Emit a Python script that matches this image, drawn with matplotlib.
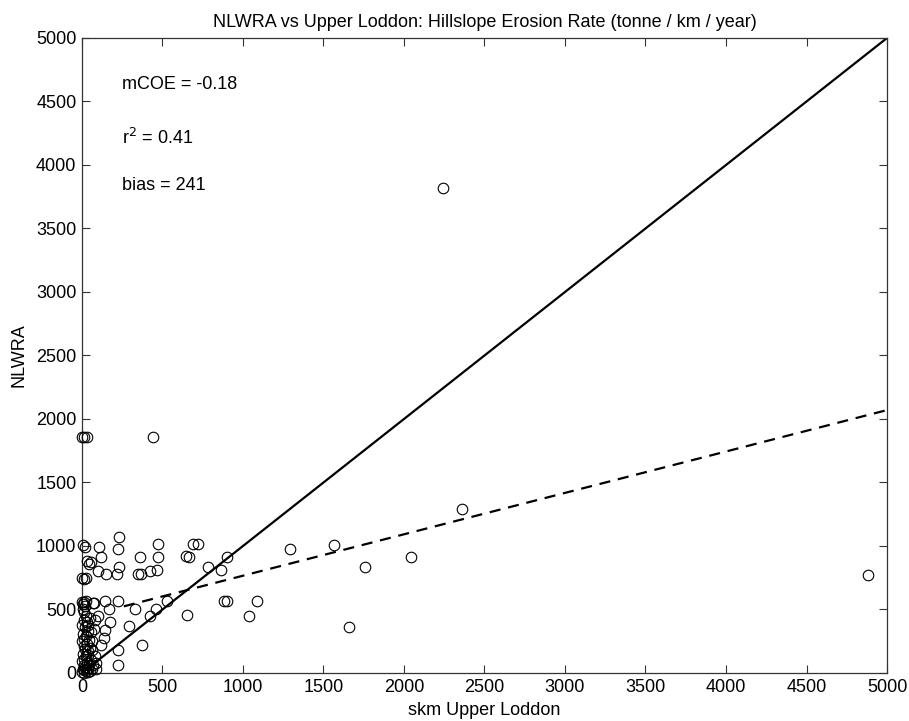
import matplotlib
matplotlib.use("Agg")
import matplotlib.pyplot as plt
import numpy as np

plt.rcParams['font.family'] = ['Liberation Sans', 'DejaVu Sans']

# Scatter data: skm Upper Loddon (x) vs NLWRA (y)
x_vals = [
    2245, 2360, 4880, 2045, 1760, 1565, 1290, 1660, 1085, 1040,
    900, 865, 880, 900, 780, 720, 690, 665, 645, 652,
    530, 473, 470, 465, 422, 442, 458, 423, 375, 365,
    350, 360, 327, 292, 232, 222, 228, 220, 222, 223,
    223, 167, 177, 146, 150, 146, 135, 115, 120, 105,
    101, 90, 73, 73,
    0, 15, 30, 5, 20, 30, 45, 55, 0, 12, 28, 0, 12, 25, 70, 5, 20,
    100, 80,
    5, 15, 25, 10, 30, 0, 20, 35, 8, 25, 15, 0, 30, 10, 20, 35, 5, 25,
    15, 0, 30, 10, 20, 35, 5, 15, 25, 0, 10, 40, 50, 60, 45, 55, 40,
    50, 45, 55, 40, 50, 60, 65, 80, 70, 85,
]
y_vals = [
    3815, 1295, 775, 910, 835, 1005, 980, 365, 565, 450,
    910, 810, 570, 570, 835, 1015, 1015, 910, 920, 459,
    569, 1015, 912, 808, 800, 1855, 503, 451, 223, 782,
    782, 912, 503, 367, 1068, 976, 835, 782, 570, 184,
    66, 503, 399, 569, 778, 336, 275, 223, 912, 994,
    806, 79, 346, 551,
    1855, 1855, 1855, 1005, 995, 880, 860, 875, 745, 740, 745, 562, 562, 570, 554, 540, 530,
    450, 420,
    500, 480, 450, 420, 400, 380, 360, 330, 310, 290, 270, 250, 230, 210, 190, 170, 150, 130,
    110, 95, 80, 65, 50, 40, 30, 20, 12, 5, 0, 5, 15, 30, 60, 100, 140,
    200, 260, 320, 380, 430, 250, 180, 130, 60, 30,
]

# Reference 1:1 line and fitted regression line (dashed)
one_to_one = [0, 5000]
fit_slope = 0.326
fit_intercept = 440
fit_x_range = [260, 5000]

stats_labels = ["mCOE = -0.18", "r$^2$ = 0.41", "bias = 241"]
stats_y = [4630, 4213, 3835]
stats_x = 248

ticks = [0, 500, 1000, 1500, 2000, 2500, 3000, 3500, 4000, 4500, 5000]

fig = plt.figure(figsize=(9.09, 7.21), dpi=100)
ax = fig.add_axes([0.0902, 0.0666, 0.8856, 0.8807])

ax.plot(one_to_one, one_to_one, color='black', linewidth=1.6, zorder=2)
fx = np.array(fit_x_range, dtype=float)
ax.plot(fx, fit_intercept + fit_slope * fx, color='black', linewidth=1.6,
        linestyle=(0, (5, 3.5)), zorder=2)
ax.plot(x_vals, y_vals, linestyle='none', marker='o', markersize=7.6,
        markerfacecolor='none', markeredgecolor='black', markeredgewidth=0.8,
        clip_on=False, zorder=3)

for lab, yy in zip(stats_labels, stats_y):
    ax.text(stats_x, yy, lab, fontsize=13, ha='left', va='center')

ax.set_xlim(0, 5000)
ax.set_ylim(0, 5000)
ax.set_xticks(ticks)
ax.set_yticks(ticks)
ax.tick_params(direction='in', length=6, width=0.8, top=True, right=True,
               labelsize=13, color='#333333', pad=4)
for s in ax.spines.values():
    s.set_linewidth(0.9)
    s.set_color('#333333')

ax.set_title("NLWRA vs Upper Loddon: Hillslope Erosion Rate (tonne / km / year)",
             fontsize=13, pad=8)
ax.set_xlabel("skm Upper Loddon", fontsize=13, labelpad=5)
ax.set_ylabel("NLWRA", fontsize=13, labelpad=6)

fig.savefig("out.png", dpi=100)
